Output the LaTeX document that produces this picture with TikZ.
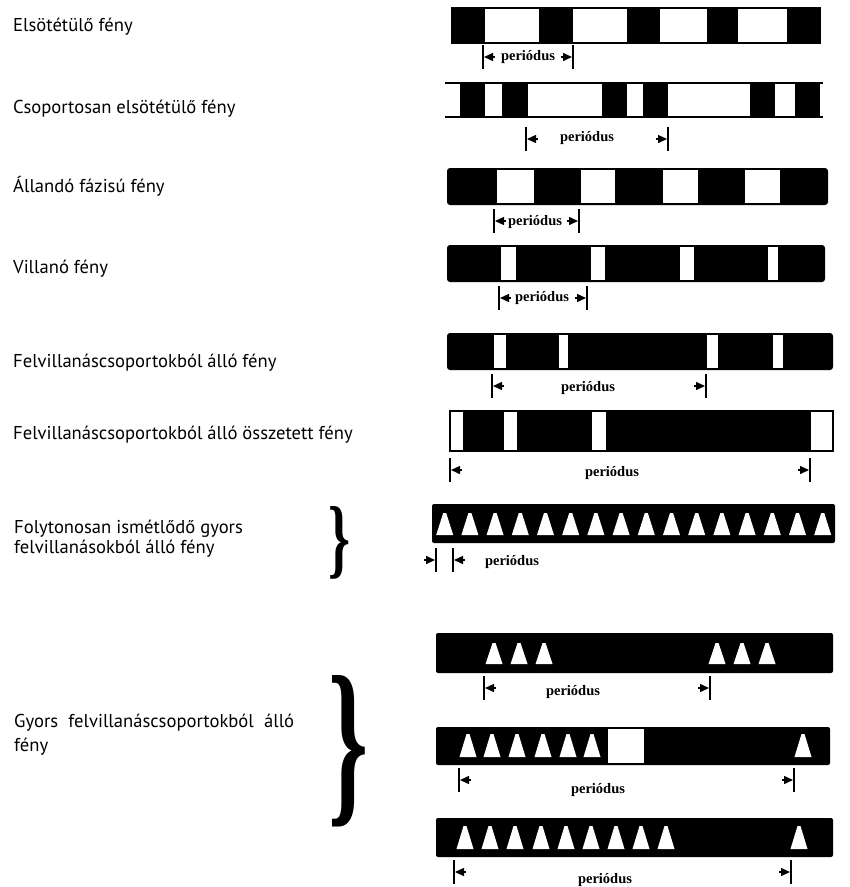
\documentclass[tikz,border=0pt]{standalone}
\usepackage{fontspec,graphicx}
\setmainfont{PT Sans}
\newfontfamily\perfont{Liberation Serif}
\usetikzlibrary{arrows.meta}

\tikzset{
  bar/.style={line width=1.3pt},
  lamp/.style={fill=black},
  gap/.style={fill=white},
  flash/.style={fill=white},
  tick/.style={line width=1.2pt},
  tip/.style={line width=1.4pt,-{Triangle[length=9pt,width=8pt]}},
  per/.style={inner sep=0pt,font=\perfont\bfseries\fontsize{14.5}{16}\selectfont},
  lbl/.style={anchor=base west,inner sep=0pt,font=\fontsize{18.6}{20}\selectfont}
}

\begin{document}
\begin{tikzpicture}[x=1pt,y=-1pt]
\useasboundingbox (0,0) rectangle (850,887);

% labels
\node[lbl] (l1) at (13,31) {Elsötétülő fény};
\node[lbl] (l2) at (13,113) {Csoportosan elsötétülő fény};
\node[lbl] (l3) at (13,192) {Állandó fázisú fény};
\node[lbl] (l4) at (13,273) {Villanó fény};
\node[lbl] (l5) at (13,367) {Felvillanáscsoportokból álló fény};
\node[lbl] (l6) at (13,439) {Felvillanáscsoportokból álló összetett fény};
\node[lbl,align=left] (l7) at (14,553) {Folytonosan ismétlődő gyors\\felvillanásokból álló fény};
\node[lbl,text width=280pt,align=justify,font=\fontsize{18.6}{24}\selectfont] (l8) at (14,727) {Gyors felvillanáscsoportokból álló fény};
\node[inner sep=0pt] (br7) at (340,542.5) {\resizebox{22pt}{61pt}{\perfont\bfseries\}}};
\node[inner sep=0pt] (br8) at (349,751.5) {\resizebox{40pt}{127pt}{\perfont\bfseries\}}};

% elsotetulo
\draw[bar] (452,8) rectangle (820,43);
\foreach \a/\b in {452/485,539/573,627/660,707/738,787/820} \fill[lamp] (\a,8) rectangle (\b,43);
% csoportosan
\draw[bar] (445,83) -- (823,83) (445,117) -- (823,117);
\foreach \a/\b in {460/485,502/528,602/627,643/668,750/775,795/820} \fill[lamp] (\a,83) rectangle (\b,117);
% allando fazisu
\fill[lamp,rounded corners=3pt] (447,168) rectangle (828,205);
\foreach \a/\b in {497/534,581/615,663/698,745/780} \fill[gap] (\a,170) rectangle (\b,203);
% villano
\fill[lamp,rounded corners=3pt] (447,245) rectangle (825,282);
\foreach \a/\b in {501/516,591/605,680/694,768/778} \fill[gap] (\a,247) rectangle (\b,280);
% csoportos villano
\fill[lamp,rounded corners=3pt] (447,333) rectangle (833,370);
\foreach \a/\b in {494/506,559/568,707/718,773/783} \fill[gap] (\a,335) rectangle (\b,368);
% osszetett
\fill[lamp] (450,411) rectangle (833,451);
\foreach \a/\b in {451/463,504/517,592/606,811/833} \fill[gap] (\a,412) rectangle (\b,450);
\draw[bar] (450,411) rectangle (833,451);

% gyors
\fill[lamp,rounded corners=2pt] (432,504) rectangle (835,543);
\foreach \k in {0,...,15} \fill[flash] ({444.7+25.2*\k-8.5},535) -- ({444.7+25.2*\k-1.5},513) -- ({444.7+25.2*\k+1.5},513) -- ({444.7+25.2*\k+8.5},535) -- cycle;
\fill[lamp,rounded corners=2pt] (436,633) rectangle (833,673);
\foreach \c in {494,519,544,717,742,767} \fill[flash] (\c-8.5,664) -- (\c-1.5,643) -- (\c+1.5,643) -- (\c+8.5,664) -- cycle;
\fill[lamp,rounded corners=2pt] (436,727) rectangle (830,765);
\fill[gap] (608,729) rectangle (644,763);
\foreach \c in {468,492,517,543,568,592,803} \fill[flash] (\c-8.5,757) -- (\c-1.5,734) -- (\c+1.5,734) -- (\c+8.5,757) -- cycle;
\fill[lamp,rounded corners=2pt] (436,818) rectangle (833,857);
\foreach \c in {465,490,515,541,566,591,616,641,666,799} \fill[flash] (\c-8.5,849) -- (\c-1.5,826) -- (\c+1.5,826) -- (\c+8.5,849) -- cycle;

% periodus
\foreach \l/\r/\y/\tx/\ty [count=\i] in {483/573/57/528/57,526/668/139/587/138,494/579/221/535/222,499/587/298/542/298,492/706/386/588/388,450/810/470/612/473,484/710/688/573/692,459/794/780/598/790,454/791/872/605/880} {
  \draw[tick] (\l,\y-12) -- (\l,\y+12) (\r,\y-12) -- (\r,\y+12);
  \draw[tip] (\l+12,\y) -- (\l+1,\y);
  \draw[tip] (\r-12,\y) -- (\r-1,\y);
  \node[per] (p\i) at (\tx,\ty) {periódus};
}
\draw[tick] (436,548) -- (436,572) (453,548) -- (453,572);
\draw[tip] (424,560) -- (435,560);
\draw[tip] (465,560) -- (454,560);
\node[per] (p10) at (512,562) {periódus};
\end{tikzpicture}
\end{document}
